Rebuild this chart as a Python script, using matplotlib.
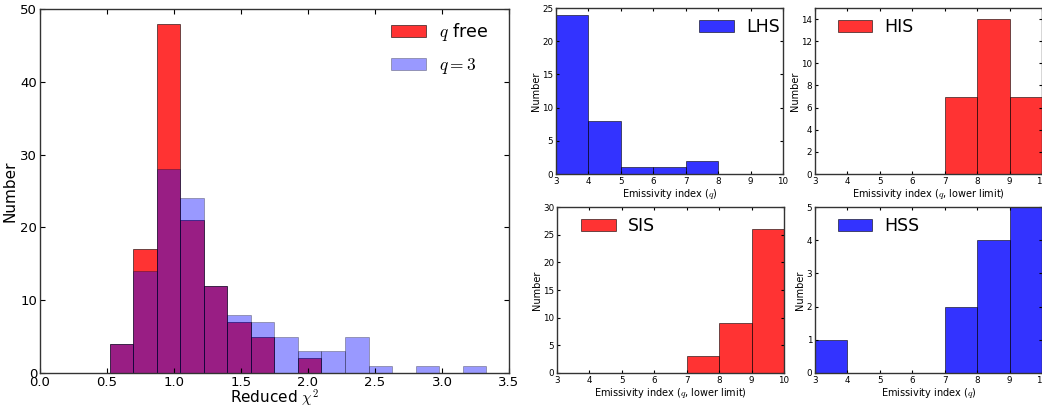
import numpy as np
import matplotlib
matplotlib.use("Agg")
import matplotlib.pyplot as plt

plt.rcParams["mathtext.fontset"] = "cm"
plt.rcParams["font.family"] = ["DejaVu Sans"]

# Left panel: reduced chi^2 histograms (16 equal bins between 0.52 and 3.33)
chi_lo = 0.52
chi_hi = 3.33
chi_nbins = 16
counts_qfree = [4, 17, 48, 21, 12, 7, 5, 0, 2, 0, 0, 0, 0, 0, 0, 0]
counts_q3 = [4, 14, 28, 24, 12, 8, 7, 5, 3, 3, 5, 1, 0, 1, 0, 1]

# Right panels: emissivity index histograms, bins 3..10
q_edges = [3, 4, 5, 6, 7, 8, 9, 10]
counts_lhs = [24, 8, 1, 1, 2, 0, 0]
counts_his = [0, 0, 0, 0, 7, 14, 7]
counts_sis = [0, 0, 0, 0, 3, 9, 26]
counts_hss = [1, 0, 0, 0, 2, 4, 5]

RED = "red"
BLUE = "blue"


def style_axes(ax, size, length):
    ax.tick_params(direction="in", top=True, right=True, labelsize=size,
                   length=length, width=0.8, pad=2)
    for s in ax.spines.values():
        s.set_linewidth(1.0)
        s.set_color("#333333")


def hist_from_counts(ax, edges, counts, color, alpha, label):
    edges = np.asarray(edges, dtype=float)
    ax.hist(edges[:-1], bins=edges, weights=counts, color=color, alpha=alpha,
            edgecolor="black", linewidth=0.5, label=label)


def small_panel(fig, rect, counts, color, label, ymax, yticks, xlabel, loc,
                anchor):
    ax = fig.add_axes(rect)
    hist_from_counts(ax, q_edges, counts, color, 0.8, label)
    ax.set_xlim(3, 10)
    ax.set_ylim(0, ymax)
    ax.set_xticks(range(3, 11))
    ax.set_yticks(yticks)
    ax.set_xlabel(xlabel, fontsize=7, labelpad=1)
    ax.set_ylabel("Number", fontsize=7, labelpad=1)
    style_axes(ax, 6.3, 2.5)
    ax.legend(loc=loc, bbox_to_anchor=anchor, frameon=False, fontsize=12.5,
              handlelength=2.0, handleheight=0.75, borderaxespad=0.0,
              borderpad=0.0, handletextpad=0.7)
    return ax


fig = plt.figure(figsize=(10.42, 4.07), dpi=100)

# Left big panel
ax = fig.add_axes([40 / 1042, 34 / 407, 469 / 1042, 364 / 407])
chi_edges = np.linspace(chi_lo, chi_hi, chi_nbins + 1)
hist_from_counts(ax, chi_edges, counts_qfree, RED, 0.8, r"$q$ free")
hist_from_counts(ax, chi_edges, counts_q3, BLUE, 0.4, r"$q=3$")
ax.set_xlim(0, 3.5)
ax.set_ylim(0, 50)
ax.set_xticks(np.arange(0, 3.51, 0.5))
ax.set_yticks(range(0, 51, 10))
ax.set_xlabel(r"Reduced $\chi^2$", fontsize=11, labelpad=-1)
ax.set_ylabel("Number", fontsize=11, labelpad=2)
style_axes(ax, 9.5, 3.5)
ax.legend(loc="upper right", frameon=False, fontsize=12.5, handlelength=2.0,
          handleheight=0.7, borderaxespad=0.0, borderpad=0.0,
          bbox_to_anchor=(0.955, 0.966),
          handletextpad=0.75, labelspacing=0.75)

small_panel(fig, [556 / 1042, 233 / 407, 227 / 1042, 166 / 407], counts_lhs,
            BLUE, "LHS", 25, range(0, 26, 5), r"Emissivity index ($q$)",
            "upper right", (0.985, 0.94))
small_panel(fig, [815 / 1042, 233 / 407, 227 / 1042, 166 / 407], counts_his,
            RED, "HIS", 15, range(0, 15, 2),
            r"Emissivity index ($q$, lower limit)", "upper left",
            (0.1, 0.94))
small_panel(fig, [557 / 1042, 34 / 407, 227 / 1042, 166 / 407], counts_sis,
            RED, "SIS", 30, range(0, 31, 5),
            r"Emissivity index ($q$, lower limit)", "upper left",
            (0.105, 0.94))
small_panel(fig, [815 / 1042, 34 / 407, 227 / 1042, 166 / 407], counts_hss,
            BLUE, "HSS", 5, range(0, 6),
            r"Emissivity index ($q$)", "upper left", (0.1, 0.94))

fig.savefig("out.png", dpi=100)
